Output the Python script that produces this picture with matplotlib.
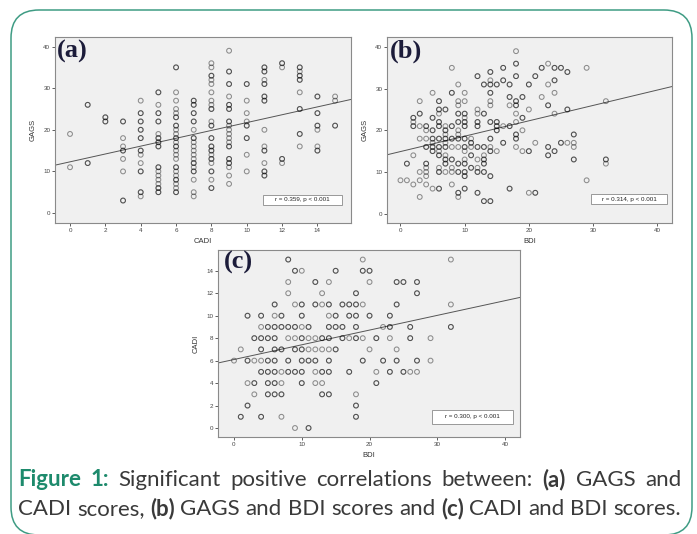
import matplotlib
matplotlib.use('Agg')
import matplotlib.pyplot as plt
from matplotlib.patches import FancyBboxPatch, Rectangle
import numpy as np

# ---------------- DATA (repeated values = overlapping points) ----------------
# Panel (a): GAGS values per CADI score
a_cadi_levels = list(range(16))
a_gags = [
    [19, 11],
    [26, 26, 12, 12],
    [23, 23, 22, 22],
    [22, 22, 18, 16, 15, 15, 13, 10, 3, 3],
    [27, 24, 24, 22, 22, 20, 20, 18, 18, 15, 15, 14, 12, 10, 10, 5, 5, 4],
    [29, 29, 26, 24, 24, 22, 22, 19, 18, 18, 17, 17, 16, 16, 11, 11, 10, 9, 8, 7, 6, 6, 5, 5],
    [35, 35, 29, 27, 25, 24, 23, 23, 21, 21, 20, 19, 18, 18, 17, 16, 16, 15, 14, 13, 11, 11, 10, 9, 8, 8, 7, 6, 5, 5],
    [27, 27, 26, 26, 24, 24, 22, 22, 20, 18, 18, 17, 16, 15, 14, 13, 12, 12, 11, 10, 10, 8, 5, 4],
    [36, 35, 33, 33, 32, 31, 29, 27, 26, 25, 25, 22, 21, 21, 18, 18, 16, 16, 15, 15, 14, 13, 13, 12, 10, 10, 8, 6, 6],
    [39, 34, 34, 31, 31, 28, 26, 26, 25, 25, 22, 22, 21, 20, 19, 18, 17, 16, 16, 13, 13, 12, 12, 11, 9, 7],
    [31, 31, 27, 24, 22, 21, 21, 18, 18, 14, 10],
    [35, 35, 34, 34, 32, 31, 31, 28, 28, 27, 27, 20, 16, 15, 15, 12, 10, 10, 9, 9],
    [36, 36, 35, 13, 13, 12],
    [35, 35, 34, 33, 33, 32, 32, 29, 25, 25, 19, 19, 16],
    [28, 28, 24, 24, 21, 21, 20, 16, 15, 15],
    [28, 27, 21, 21],
]
a_fit = (12.3, 0.943)          # intercept, slope of drawn regression line
a_note = "r = 0.359, p < 0.001"

# Panel (b): GAGS values per BDI score
b_bdi_levels = list(range(28)) + [29, 32]
b_gags = [
    [8],
    [12, 12, 8],
    [23, 23, 22, 21, 21, 14, 7],
    [27, 24, 24, 21, 18, 10, 8, 4],
    [21, 21, 20, 18, 16, 16, 12, 12, 11, 10, 9, 7],
    [29, 23, 23, 20, 20, 18, 18, 17, 16, 16, 15, 15, 6],
    [27, 27, 25, 25, 24, 22, 22, 21, 21, 18, 18, 16, 16, 15, 14, 14, 11, 10, 10, 6, 6],
    [25, 25, 21, 20, 20, 19, 18, 18, 17, 16, 16, 14, 13, 13, 12, 12, 10],
    [35, 29, 29, 21, 21, 18, 18, 16, 13, 13, 11, 10, 7],
    [31, 27, 26, 24, 24, 22, 22, 20, 19, 18, 18, 16, 12, 12, 10, 10, 5, 5, 4],
    [29, 27, 24, 24, 23, 22, 22, 21, 21, 18, 18, 16, 16, 15, 13, 12, 12, 10, 10, 9, 9, 6, 6],
    [18, 17, 17, 16, 14, 14, 11, 11],
    [33, 33, 25, 24, 22, 22, 21, 21, 16, 16, 13, 11, 10, 10, 5, 5],
    [31, 31, 24, 24, 16, 16, 14, 13, 13, 12, 12, 10, 10, 3, 3],
    [34, 34, 32, 31, 31, 29, 29, 27, 26, 22, 22, 18, 18, 16, 15, 15, 9, 9, 3, 3],
    [31, 31, 22, 22, 21, 21, 20, 20, 15],
    [35, 35, 32, 32, 21, 17, 17],
    [31, 31, 28, 28, 26, 21, 21, 6, 6],
    [39, 36, 36, 33, 33, 27, 27, 26, 26, 24, 22, 19, 19, 18, 18, 16],
    [28, 28, 23, 23, 20, 15],
    [31, 31, 25, 15, 15, 5],
    [33, 33, 17, 5, 5],
    [35, 35, 28],
    [36, 31, 26, 26, 16, 16, 14, 14],
    [35, 35, 32, 32, 29, 24, 15, 15],
    [35, 35, 17, 17],
    [34, 34, 25, 25, 17],
    [19, 19, 17, 16, 13, 13],
    [35, 8],
    [27, 13, 13, 12],
]
b_fit = (14.9, 0.369)
b_note = "r = 0.314, p < 0.001"

# Panel (c): BDI values per CADI score
c_cadi_levels = list(range(15, -1, -1))
c_bdi = [
    [8, 8, 19, 32],
    [9, 9, 10, 15, 15, 19, 19, 20, 20],
    [8, 12, 12, 14, 20, 24, 24, 25, 25, 27, 27],
    [8, 13, 18, 18, 27, 27],
    [6, 6, 9, 10, 10, 12, 12, 13, 14, 14, 16, 16, 17, 17, 18, 18, 19, 24, 24, 32],
    [2, 2, 4, 4, 6, 7, 7, 10, 10, 14, 15, 15, 17, 17, 18, 18, 20, 20, 23, 23],
    [4, 5, 5, 6, 6, 7, 7, 8, 8, 9, 9, 10, 11, 11, 14, 14, 15, 15, 16, 16, 18, 18, 22, 23, 23, 26, 26, 32, 32],
    [3, 3, 4, 4, 5, 5, 6, 6, 8, 9, 10, 10, 11, 12, 13, 13, 14, 14, 16, 16, 17, 18, 18, 19, 21, 21, 23, 26, 26, 29],
    [1, 4, 4, 6, 6, 7, 7, 9, 9, 10, 10, 11, 12, 13, 14, 15, 15, 20, 24],
    [0, 2, 2, 3, 4, 5, 5, 6, 6, 8, 8, 10, 10, 11, 11, 12, 12, 14, 14, 19, 19, 22, 22, 24, 24, 27, 27, 29],
    [4, 4, 5, 5, 6, 6, 7, 8, 8, 9, 9, 10, 10, 12, 13, 13, 14, 14, 17, 17, 21, 23, 23, 25, 25, 26, 27],
    [2, 3, 3, 5, 5, 6, 6, 7, 10, 10, 12, 13, 21, 21],
    [3, 5, 5, 6, 6, 7, 7, 13, 13, 14, 14, 18],
    [2, 2, 18, 18],
    [1, 1, 4, 4, 7, 18, 18],
    [9, 11, 11],
]
c_fit = (6.1, 0.131)
c_note = "r = 0.300, p < 0.001"

a_xticks = [0, 2, 4, 6, 8, 10, 12, 14]
gags_ticks = [0, 10, 20, 30, 40]
bdi_ticks = [0, 10, 20, 30, 40]
cadi_ticks = [0, 2, 4, 6, 8, 10, 12, 14]

caption_line1 = [("Figure", "fig"), ("1:", "fig"), ("Significant", "n"), ("positive", "n"),
                 ("correlations", "n"), ("between:", "n"), ("(a)", "b"), ("GAGS", "n"), ("and", "n")]
caption_line2 = [("CADI", "n"), ("scores,", "n"), ("(b)", "b"), ("GAGS", "n"), ("and", "n"),
                 ("BDI", "n"), ("scores", "n"), ("and", "n"), ("(c)", "b"), ("CADI", "n"),
                 ("and", "n"), ("BDI", "n"), ("scores.", "n")]

# ---------------- FIGURE ----------------
W, H = 697, 534
fig = plt.figure(figsize=(W / 100, H / 100), dpi=100)
bg = fig.add_axes([0, 0, 1, 1])
bg.set_xlim(0, W)
bg.set_ylim(H, 0)
bg.axis('off')
bg.add_patch(FancyBboxPatch((11, 10), 681, 525, boxstyle='round,pad=0,rounding_size=28',
                            fill=False, ec='#3f9c84', lw=1.1))

PLOT_FONT = 'Liberation Sans'


def expand(levels, cols):
    ks, vs = [], []
    for k, col in zip(levels, cols):
        ks += [k] * len(col)
        vs += list(col)
    return np.array(ks, float), np.array(vs, float)


def make_ax(l, r, t, b):
    return fig.add_axes([l / W, 1 - b / H, (r - l) / W, (b - t) / H])


def panel(ax, xs, ys, xlim, ylim, xticks, yticks, xlabel, ylabel, fit, letter, letter_pos,
          note, nbox, ylabelpad):
    ax.set_facecolor('#f0f0f0')
    ax.scatter(xs, ys, s=12, facecolors='none', edgecolors=(0, 0, 0, 0.42), linewidths=0.75, zorder=3)
    xx = np.array(xlim)
    ax.plot(xx, fit[0] + fit[1] * xx, color='#555555', lw=0.7, zorder=2)
    ax.set_xlim(*xlim)
    ax.set_ylim(*ylim)
    ax.set_xticks(xticks)
    ax.set_yticks(yticks)
    for lab in ax.get_xticklabels() + ax.get_yticklabels():
        lab.set_family(PLOT_FONT)
    ax.tick_params(labelsize=4.5, length=2.2, width=0.6, pad=1.2, colors='#444444')
    for sp in ax.spines.values():
        sp.set_color('#8a8a8a')
        sp.set_linewidth(0.8)
    if xlabel:
        ax.set_xlabel(xlabel, fontsize=5.5, family=PLOT_FONT, color='#333333', labelpad=3.5)
    ax.set_ylabel(ylabel, fontsize=5.5, family=PLOT_FONT, color='#333333', labelpad=ylabelpad)
    ax.text(letter_pos[0], letter_pos[1], letter, transform=ax.transAxes, fontsize=19,
            fontweight='bold', family='Liberation Serif', color='#1c1c3a', va='top', ha='left', zorder=6)
    x0, x1, y0, y1 = nbox
    ax.add_patch(Rectangle((x0, y0), x1 - x0, y1 - y0, transform=ax.transAxes, fc='white',
                           ec='#8a8a8a', lw=0.6, zorder=4))
    ax.text((x0 + x1) / 2, (y0 + y1) / 2, note, transform=ax.transAxes, ha='center', va='center',
            fontsize=4.5, family=PLOT_FONT, color='#222222', zorder=5)


axa = make_ax(55, 351, 37, 223)
xa, ya = expand(a_cadi_levels, a_gags)
panel(axa, xa, ya, (-0.85, 15.9), (-2.4, 42.3), a_xticks, gags_ticks, 'CADI', 'GAGS', a_fit,
      '(a)', (0.008, 0.985), a_note, (0.703, 0.970, 0.097, 0.151), 4.5)

axb = make_ax(387, 672, 37, 223)
xb, yb = expand(b_bdi_levels, b_gags)
panel(axb, xb, yb, (-2.1, 42.3), (-2.25, 42.4), bdi_ticks, gags_ticks, 'BDI', 'GAGS', b_fit,
      '(b)', (0.01, 0.985), b_note, (0.716, 0.982, 0.102, 0.156), 4.5)

axc = make_ax(218, 520, 250, 437)
yc, xc = expand(c_cadi_levels, c_bdi)
panel(axc, xc, yc, (-2.36, 42.2), (-0.8, 15.85), bdi_ticks, cadi_ticks, 'BDI', 'CADI', c_fit,
      '(c)', (0.02, 0.995), c_note, (0.709, 0.977, 0.070, 0.144), 4.5)

# ---------------- CAPTION (justified) ----------------
CAP_FONT = 'Lato'
TEAL = '#1d8a6c'
GREY = '#3a3a3a'
fig.canvas.draw()
rend = fig.canvas.get_renderer()


def twidth(s, fs, bold):
    t = bg.text(0, 0, s, fontsize=fs, family=CAP_FONT, fontweight='bold' if bold else 'normal')
    w = t.get_window_extent(rend).width
    t.remove()
    return w


def line_widths(words, fs):
    return [twidth(w, fs, st != 'n') for w, st in words]


left, right = 18, 681
fs = 14.0
sp = twidth('a a', fs, False) - twidth('aa', fs, False)
nat1 = sum(line_widths(caption_line1, fs)) + sp * (len(caption_line1) - 1)
nat2 = sum(line_widths(caption_line2, fs)) + sp * (len(caption_line2) - 1)
fs = fs * (right - left) / max(nat1, nat2)


def draw_line(words, y):
    ws = line_widths(words, fs)
    gap = (right - left - sum(ws)) / (len(words) - 1)
    x = left
    for (w, st), wd in zip(words, ws):
        color = TEAL if st == 'fig' else GREY
        bg.text(x, y, w, fontsize=fs, family=CAP_FONT, fontweight='bold' if st != 'n' else 'normal',
                color=color, va='baseline', ha='left')
        x += wd + gap


draw_line(caption_line1, 486)
draw_line(caption_line2, 515)

fig.savefig('out.png', dpi=100)
